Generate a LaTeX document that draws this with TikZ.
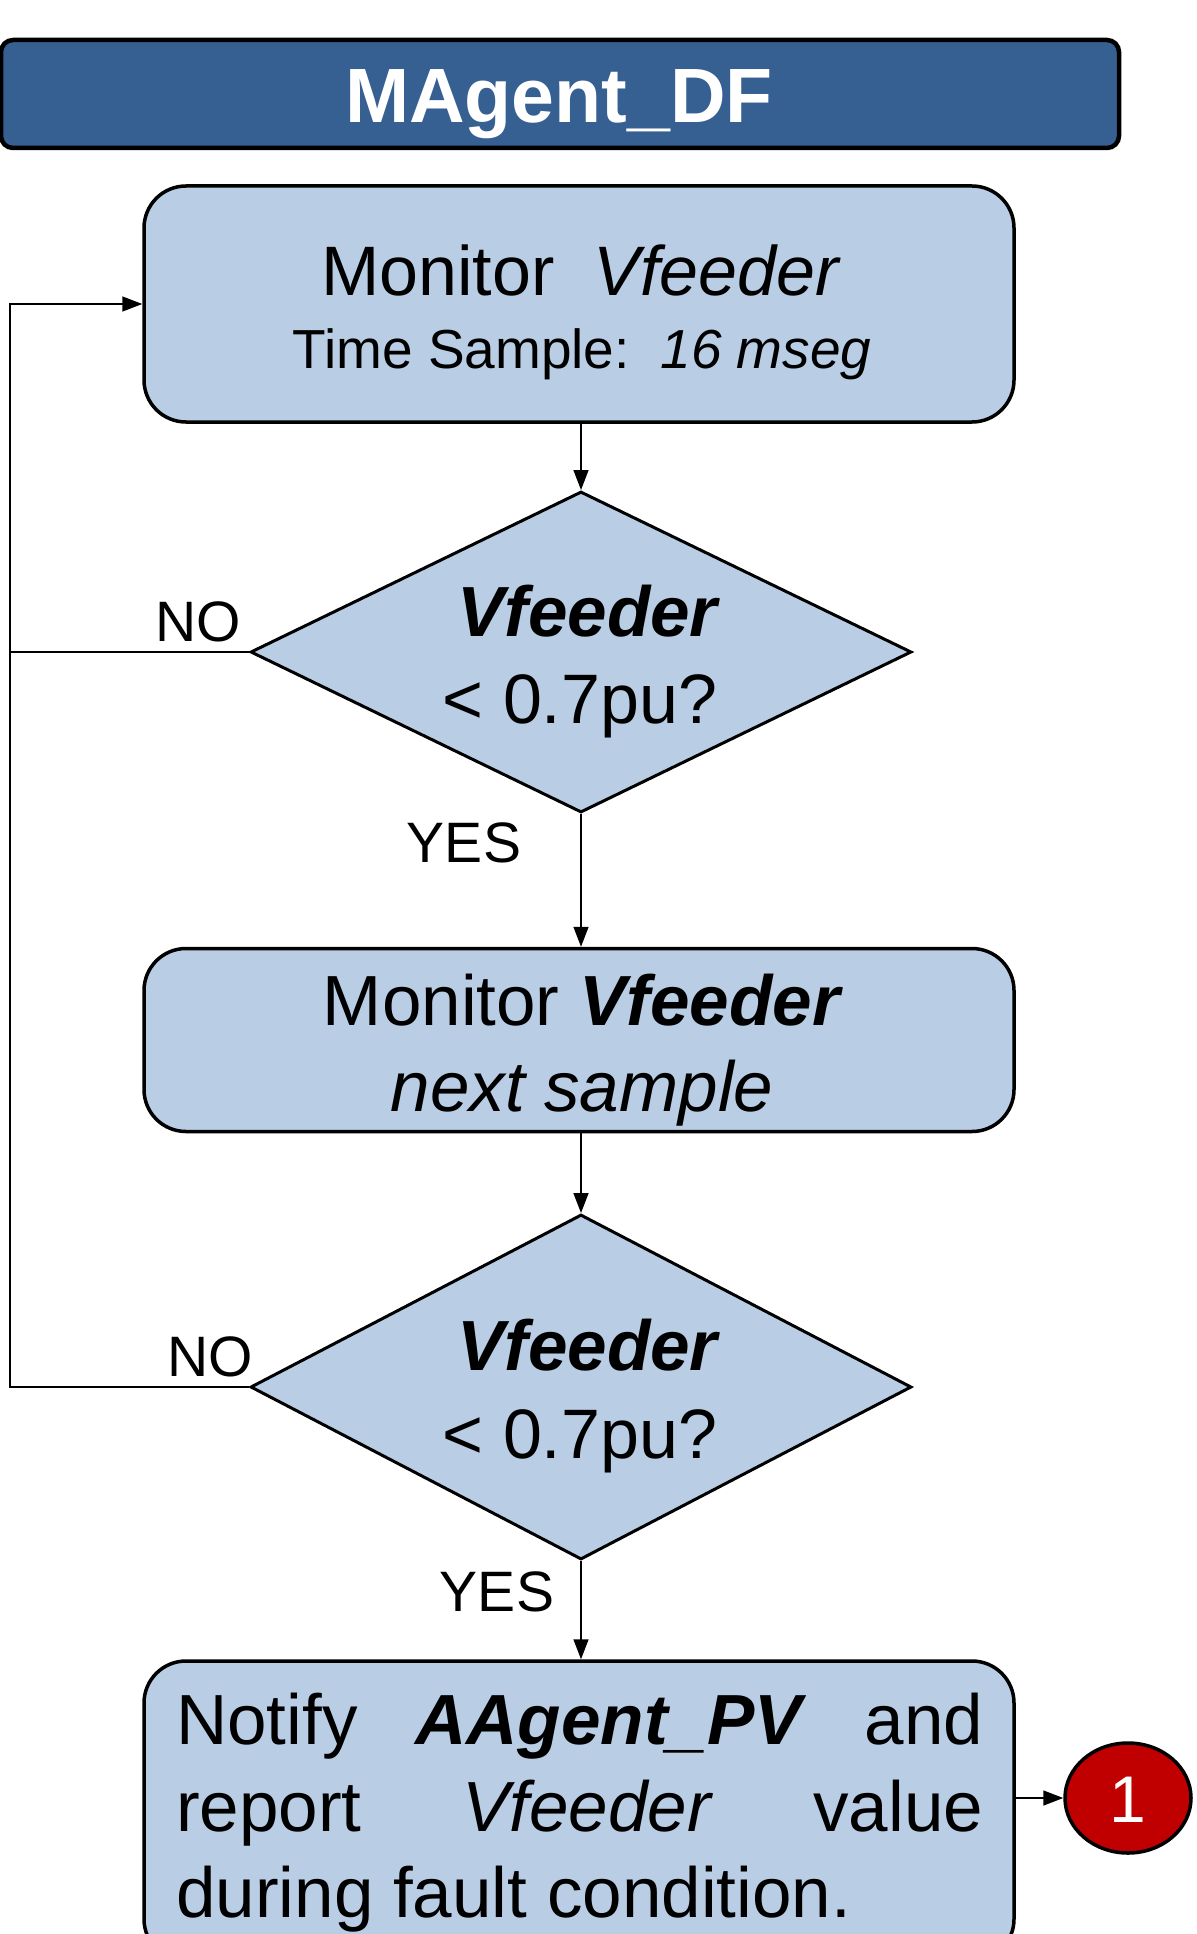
\documentclass[tikz,border=0pt]{standalone}
\usepackage{fontspec}
\setmainfont{Liberation Sans}
\usetikzlibrary{shapes.geometric,arrows.meta}
\definecolor{titleblue}{HTML}{376092}
\definecolor{lightblue}{HTML}{B9CDE5}
\definecolor{darkred}{HTML}{C00000}
\newcommand\fsz[2]{\fontsize{#1}{#2}\selectfont}
\tikzset{
  procbox/.style={draw=black, line width=3.5pt, fill=lightblue, rounded corners=42pt,
    minimum width=870pt, inner sep=0pt},
  decbox/.style={draw=black, line width=3pt, fill=lightblue, diamond, inner sep=0pt,
    minimum width=661pt},
  conn/.style={draw=black, line width=1.5pt},
  arr/.style={conn, -{Triangle[length=20pt,width=15pt]}},
  txt/.style={inner sep=0pt, anchor=base},
  lbl/.style={inner sep=0pt, anchor=base, font=\fsz{57}{60}},
}
\begin{document}
\begin{tikzpicture}[x=1pt,y=-1pt]
\useasboundingbox (0,0) rectangle (1196,1934);
\clip (0,0) rectangle (1196,1934);
% title
\node[draw=black, line width=4.5pt, fill=titleblue, rounded corners=12pt,
  minimum width=1118pt, minimum height=108pt, inner sep=0pt] (title) at (560,94) {};
\node[txt, text=white, font=\fsz{77}{80}\bfseries] (titletext) at (559,123) {MAgent\_DF};
% box 1
\node[procbox, minimum height=236pt] (box1) at (579,304) {};
\node[txt, font=\fsz{70}{80}] (b1a) at (581,296) {Monitor\ \ \textit{Vfeeder}};
\node[txt, font=\fsz{55}{60}] (b1b) at (582,368) {Time Sample:\ \ \textit{16 mseg}};
% decision 1
\node[decbox, minimum height=321pt] (d1) at (581,652) {};
\node[txt, font=\fsz{71}{80}] (d1a) at (589,636) {\textbf{\textit{Vfeeder}}};
\node[txt, font=\fsz{70}{80}] (d1b) at (580,723) {< 0.7pu?};
% box 2
\node[procbox, minimum height=183pt] (box2) at (579,1040) {};
\node[txt, font=\fsz{71}{80}] (b2a) at (583,1025) {Monitor \textbf{\textit{Vfeeder}}};
\node[txt, font=\fsz{71}{80}] (b2b) at (582,1111) {\textit{next sample}};
% decision 2
\node[decbox, minimum height=345pt] (d2) at (581,1387) {};
\node[txt, font=\fsz{71}{80}] (d2a) at (589,1370) {\textbf{\textit{Vfeeder}}};
\node[txt, font=\fsz{70}{80}] (d2b) at (580,1458) {< 0.7pu?};
% box 3
\node[procbox, minimum height=300pt] (box3) at (579,1811) {};
\node[inner sep=0pt, anchor=base west, font=\fsz{71}{80}] (t3a) at (176,1744)
  {\hbox to 807pt{Notify\hfill\textbf{\textit{AAgent\_PV}}\hfill and}};
\node[inner sep=0pt, anchor=base west, font=\fsz{71}{80}] (t3b) at (176,1831)
  {\hbox to 807pt{report\hfill\textit{Vfeeder}\hfill value}};
\node[inner sep=0pt, anchor=base west, font=\fsz{71}{80}] (t3c) at (176,1917)
  {during fault condition.};
% connector circle
\node[ellipse, draw=black, line width=3.5pt, fill=darkred, minimum width=126pt,
  minimum height=110pt, inner sep=0pt] (c1) at (1128,1798) {};
\node[txt, text=white, font=\fsz{66}{70}] (c1t) at (1128,1822) {1};
% connectors
\coordinate (loopA) at (10,652);
\coordinate (loopB) at (10,1387);
\draw[arr] (box1.south -| d1.north) -- (d1.north);
\draw[arr] (d1.south) -- (box2.north -| d1.south);
\draw[arr] (box2.south -| d2.north) -- (d2.north);
\draw[arr] (d2.south) -- (box3.north -| d2.south);
\draw[arr] (d1.west) -- (loopA) |- (box1.west);
\draw[conn] (d2.west) -- (loopB) -- (loopA);
\draw[arr] (box3.east |- c1.west) -- (c1.west);
% labels
\node[lbl] (no1) at (198,641) {NO};
\node[lbl] (yes1) at (464,862) {YES};
\node[lbl] (no2) at (210,1376) {NO};
\node[lbl] (yes2) at (497,1611) {YES};
\end{tikzpicture}
\end{document}
